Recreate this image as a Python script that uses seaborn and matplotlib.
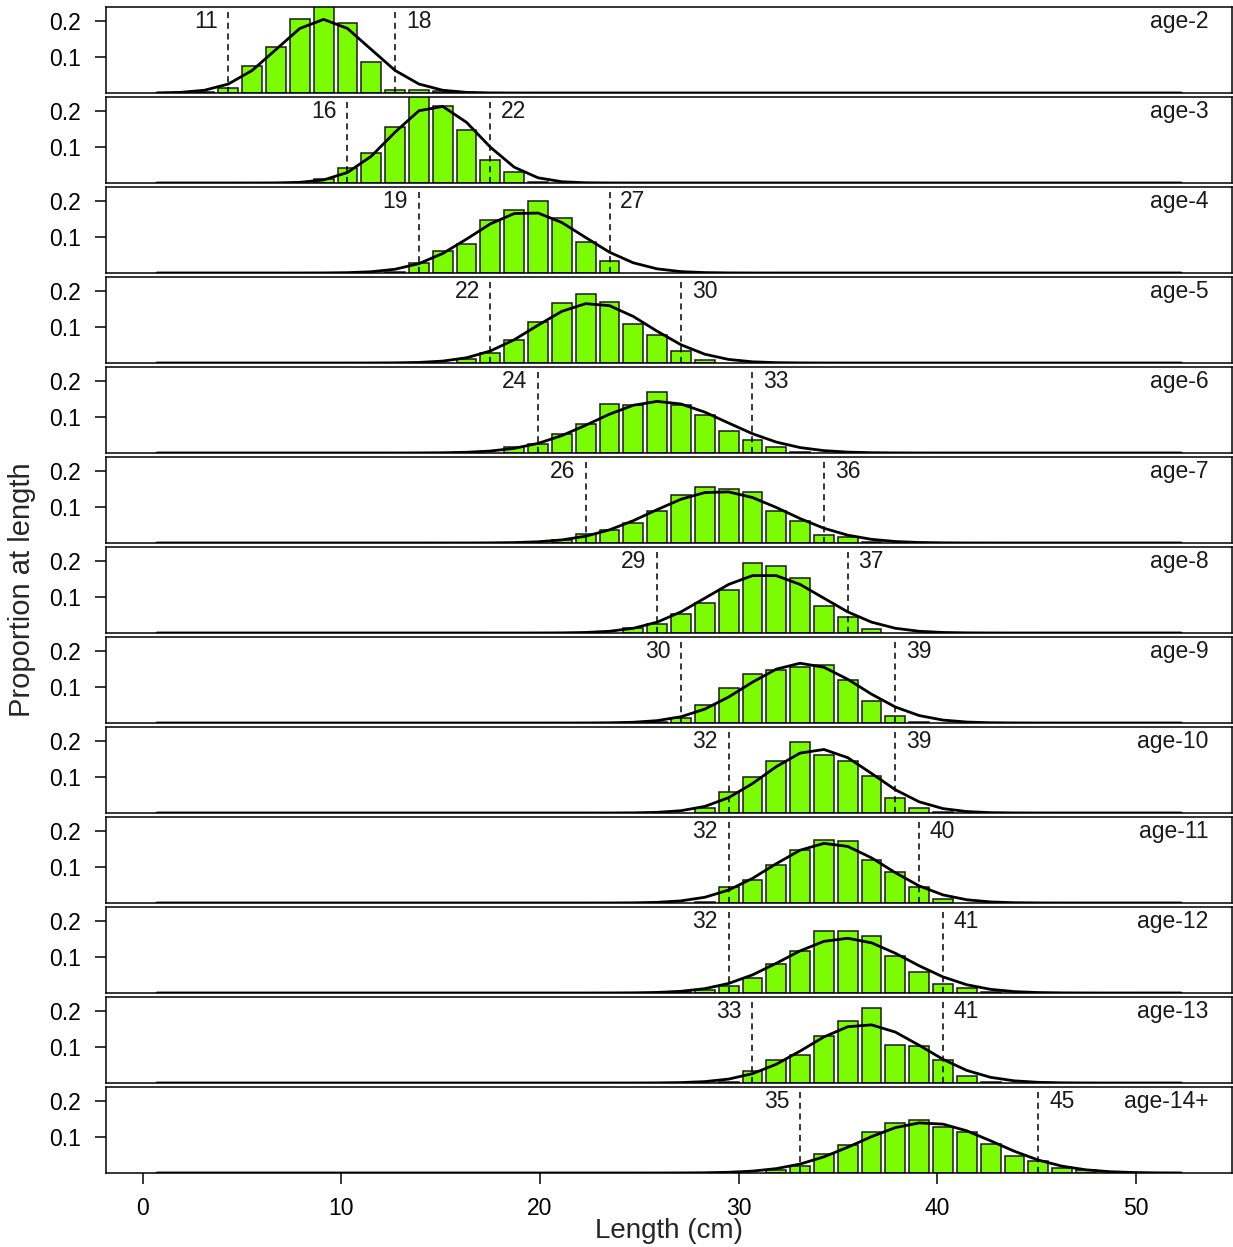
import numpy as np
import pandas as pd
import matplotlib
matplotlib.use("Agg")
import matplotlib.pyplot as plt
import seaborn as sns

sns.set_theme(style="white")
plt.rcParams['font.family'] = ['Liberation Sans', 'DejaVu Sans']

# ---------------- data ----------------
ages = ["age-2", "age-3", "age-4", "age-5", "age-6", "age-7", "age-8",
        "age-9", "age-10", "age-11", "age-12", "age-13", "age-14+"]

# first length class of each panel's bars
first_len = [10, 15, 18, 21, 23, 25, 28, 29, 31, 31, 30, 32, 34]

prop_age2 = [0.003, 0.015, 0.076, 0.129, 0.206, 0.250, 0.194, 0.085, 0.008, 0.008, 0.005]
prop_age3 = [0.012, 0.042, 0.083, 0.157, 0.250, 0.213, 0.146, 0.063, 0.031, 0.003]
prop_age4 = [0.003, 0.028, 0.060, 0.081, 0.146, 0.174, 0.199, 0.153, 0.085, 0.034]
prop_age5 = [0.011, 0.028, 0.063, 0.114, 0.167, 0.192, 0.169, 0.109, 0.077, 0.032, 0.009]
prop_age6 = [0.017, 0.025, 0.054, 0.081, 0.137, 0.134, 0.169, 0.134, 0.106, 0.060, 0.037, 0.017, 0.002]
prop_age7 = [0.007, 0.025, 0.035, 0.056, 0.088, 0.134, 0.157, 0.150, 0.141, 0.088, 0.060, 0.022, 0.016, 0.002]
prop_age8 = [0.015, 0.025, 0.053, 0.083, 0.120, 0.194, 0.187, 0.153, 0.074, 0.044, 0.012]
prop_age9 = [0.003, 0.015, 0.051, 0.097, 0.137, 0.148, 0.157, 0.162, 0.120, 0.060, 0.019, 0.002]
prop_age10 = [0.014, 0.057, 0.099, 0.144, 0.197, 0.160, 0.145, 0.104, 0.042, 0.014, 0.003]
prop_age11 = [0.003, 0.044, 0.065, 0.106, 0.148, 0.176, 0.171, 0.120, 0.085, 0.044, 0.011]
prop_age12 = [0.003, 0.008, 0.020, 0.042, 0.081, 0.118, 0.171, 0.171, 0.159, 0.104, 0.058, 0.026, 0.014, 0.002]
prop_age13 = [0.004, 0.032, 0.063, 0.079, 0.131, 0.173, 0.208, 0.105, 0.102, 0.063, 0.019, 0.002]
prop_age14 = [0.007, 0.019, 0.053, 0.079, 0.113, 0.139, 0.148, 0.128, 0.113, 0.081, 0.046, 0.034, 0.014, 0.007]

props = [prop_age2, prop_age3, prop_age4, prop_age5, prop_age6, prop_age7, prop_age8,
         prop_age9, prop_age10, prop_age11, prop_age12, prop_age13, prop_age14]

# dashed cut-off lengths (also the printed labels)
cut_low = [11, 16, 19, 22, 24, 26, 29, 30, 32, 32, 32, 33, 35]
cut_high = [18, 22, 27, 30, 33, 36, 37, 39, 39, 40, 41, 41, 45]

# fitted normal curves (mean, sd in length classes)
fit_mean = [15.0, 19.7, 23.55, 26.3, 29.1, 31.6, 33.5, 35.1, 35.8, 36.2, 36.9, 37.7, 40.3]
fit_sd = [1.95, 1.85, 2.35, 2.4, 2.78, 2.78, 2.45, 2.4, 2.25, 2.4, 2.62, 2.45, 2.85]
curve_len = np.arange(8, 52)          # length classes where the fit is evaluated

# bottom axis tick labels (barplot coordinates, labelled as cm)
xtick_vals = [0, 10, 20, 30, 40, 50]


def axis_to_len(t):
    # barplot coordinate (space=0.2, width=1) -> length class
    return (t + 0.5) / 1.2 + 7


# ---------------- style ----------------
GREEN = "#7CFC00"
EDGE = "#1a1a1a"
FS = 16.5
W, H = 1233, 1247
AX_L, AX_R = 106, 1232
TOP0, PITCH, PH = 7, 90, 86

fig = plt.figure(figsize=(W / 100, H / 100), dpi=100)

for k, age in enumerate(ages):
    top = TOP0 + PITCH * k
    ax = fig.add_axes([AX_L / W, 1 - (top + PH) / H, (AX_R - AX_L) / W, PH / H])

    lengths = np.arange(first_len[k], first_len[k] + len(props[k]))
    df = pd.DataFrame({"length": lengths, "prop": props[k]})
    sns.barplot(data=df, x="length", y="prop", native_scale=True, orient="x",
                width=1 / 1.2, color=GREEN, saturation=1, edgecolor=EDGE,
                linewidth=1.1, errorbar=None, ax=ax, zorder=2)

    pdf = np.exp(-0.5 * ((curve_len - fit_mean[k]) / fit_sd[k]) ** 2) / (fit_sd[k] * np.sqrt(2 * np.pi))
    sns.lineplot(x=curve_len, y=pdf, color="black", linewidth=2.0, ax=ax, zorder=4)

    for c in (cut_low[k], cut_high[k]):
        ax.axvline(c, ymin=0, ymax=0.96, color="black", lw=1.1, ls=(0, (4, 3)), zorder=5)
    ax.text(cut_low[k] - 0.45, 0.198, str(cut_low[k]), ha="right", va="center",
            fontsize=FS, color="#1a1a1a")
    ax.text(cut_high[k] + 0.45, 0.198, str(cut_high[k]), ha="left", va="center",
            fontsize=FS, color="#1a1a1a")
    ax.text(0.979, 0.198, age, ha="right", va="center", fontsize=FS,
            color="#1a1a1a", transform=ax.get_yaxis_transform())

    ax.set_xlim(5.865, 53.13)
    ax.set_ylim(0, 0.239)
    ax.set_xlabel("")
    ax.set_ylabel("")
    ax.set_yticks([0.1, 0.2])
    ax.set_yticklabels(["0.1", "0.2"])
    ax.tick_params(axis="y", left=True, direction="out", length=8, width=1.1,
                   pad=10, labelsize=FS, colors="black")
    for s in ax.spines.values():
        s.set_color("black")
        s.set_linewidth(1.1)
    if k == len(ages) - 1:
        ax.set_xticks([axis_to_len(t) for t in xtick_vals])
        ax.set_xticklabels([str(t) for t in xtick_vals])
        ax.tick_params(axis="x", bottom=True, direction="out", length=8, width=1.1,
                       pad=9, labelsize=FS, colors="black")
    else:
        ax.set_xticks([])

fig.text(22 / W, 1 - 590 / H, "Proportion at length", rotation=90,
         ha="center", va="center", fontsize=21)
fig.text(669 / W, 1 - 1231 / H, "Length (cm)", ha="center", va="center", fontsize=20)

fig.savefig("out.png", dpi=100)
